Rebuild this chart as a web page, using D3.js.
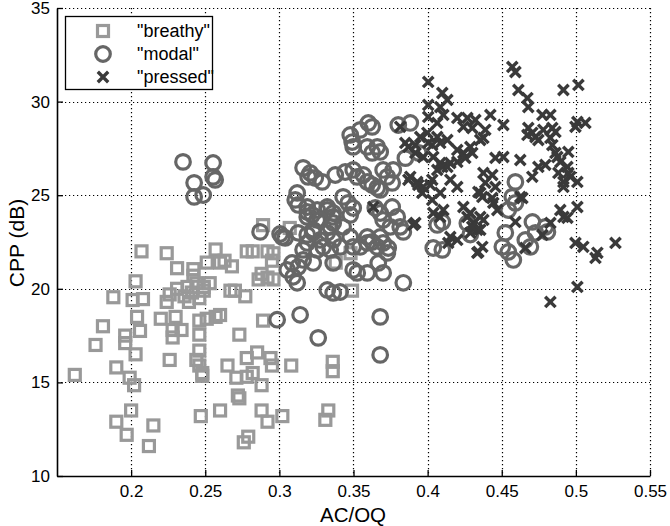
<!DOCTYPE html>
<html>
<head>
<meta charset="utf-8">
<script src="https://cdn.jsdelivr.net/npm/d3@7"></script>
<style>
  body { margin: 0; background: #fff; }
  svg text { font-family: "Liberation Sans", Arial, Helvetica, sans-serif; }
</style>
</head>
<body>
<svg id="chart" width="670" height="526"></svg>
<script>
// ---- data ----
const xTicks = [0.2, 0.25, 0.3, 0.35, 0.4, 0.45, 0.5, 0.55];
const yTicks = [10, 15, 20, 25, 30, 35];
const seriesNames = ['"breathy"', '"modal"', '"pressed"'];

const breathy = [
[0.162,15.4],[0.176,17.0],[0.181,18.0],[0.188,19.55],[0.203,20.4],[0.201,19.4],[0.208,19.45],[0.204,18.5],
[0.206,17.75],[0.196,17.5],[0.196,17.1],[0.203,16.5],[0.190,15.8],[0.199,15.25],[0.202,14.85],[0.200,13.5],
[0.190,12.9],[0.197,12.2],[0.215,12.7],[0.212,11.6],[0.220,18.4],[0.226,19.7],[0.224,19.3],[0.230,18.5],
[0.228,17.8],[0.234,17.8],[0.228,17.4],[0.226,16.2],[0.207,22.0],[0.224,21.9],[0.231,21.1],[0.242,21.05],
[0.257,22.1],[0.260,21.4],[0.251,21.4],[0.231,20.0],[0.238,20.1],[0.242,20.7],[0.241,19.8],[0.249,19.9],
[0.246,19.5],[0.236,19.6],[0.244,20.3],[0.239,19.3],[0.246,18.3],[0.257,18.5],[0.260,18.6],[0.251,18.4],
[0.246,17.55],[0.246,16.7],[0.244,16.2],[0.246,15.9],[0.248,15.5],[0.248,15.35],[0.247,13.2],[0.260,13.5],
[0.265,15.9],[0.273,17.55],[0.271,15.25],[0.272,14.3],[0.273,14.15],[0.278,16.3],[0.285,16.6],[0.282,15.5],
[0.278,15.3],[0.288,14.85],[0.294,16.3],[0.295,15.9],[0.288,13.5],[0.292,12.9],[0.302,13.2],[0.308,15.9],
[0.289,18.3],[0.276,11.8],[0.279,12.1],[0.277,19.6],[0.267,19.9],[0.336,16.1],[0.336,15.6],[0.333,13.5],
[0.331,13.0],[0.289,23.4],[0.307,23.25],[0.278,22.0],[0.292,22.0],[0.296,21.9],[0.282,22.0],[0.295,21.5],
[0.288,20.8],[0.292,20.6],[0.296,20.5],[0.286,20.5],[0.268,21.2],[0.263,21.5],[0.270,19.9],[0.348,21.9],
[0.338,21.4],[0.349,19.9],[0.253,20.3],[0.249,20.1]
];

const modal = [
[0.235,26.78],[0.2553,26.72],[0.2425,25.66],[0.2553,25.98],[0.2567,25.82],[0.2425,24.91],[0.2486,25.01],
[0.287,23.04],[0.3005,22.93],[0.3039,22.72],[0.316,26.46],[0.3208,26.19],[0.3289,25.71],[0.3377,26.08],
[0.312,25.12],[0.3107,24.75],[0.3127,24.48],[0.3188,24.11],[0.3221,23.95],[0.3255,23.68],[0.3323,24.21],
[0.3363,23.84],[0.3343,23.31],[0.3228,23.15],[0.3188,22.88],[0.3275,22.61],[0.3363,22.61],[0.316,22.08],
[0.3255,22.08],[0.3343,22.08],[0.36,28.86],[0.3626,28.65],[0.3545,28.49],[0.3478,28.22],[0.3491,27.84],
[0.3498,27.58],[0.3802,28.75],[0.3883,28.86],[0.3593,27.58],[0.366,27.58],[0.368,27.31],[0.3626,27.26],
[0.3194,25.98],[0.3242,25.92],[0.3444,26.24],[0.3498,26.35],[0.3525,25.98],[0.3566,26.08],[0.3593,25.71],
[0.3626,25.55],[0.37,26.35],[0.3728,25.98],[0.3768,26.35],[0.3761,25.66],[0.366,25.39],[0.368,25.28],
[0.385,26.98],[0.394,27.26],[0.343,24.91],[0.3464,24.59],[0.3498,24.32],[0.3478,23.95],[0.3647,24.32],
[0.368,24.05],[0.3761,24.37],[0.3795,23.84],[0.37,23.68],[0.3748,23.31],[0.3815,23.31],[0.3836,23.04],
[0.3593,22.77],[0.3626,22.5],[0.368,22.77],[0.37,22.45],[0.3734,22.18],[0.4038,22.18],[0.4099,22.08],
[0.4065,23.41],[0.4099,23.57],[0.3188,24.37],[0.3255,24.21],[0.3323,24.37],[0.3363,24.05],[0.3188,23.84],
[0.3275,23.68],[0.3363,23.52],[0.3228,22.99],[0.3323,22.99],[0.343,23.31],[0.3478,22.77],[0.3188,22.45],
[0.3296,22.24],[0.341,22.24],[0.3498,22.24],[0.316,21.54],[0.3228,21.38],[0.3363,21.38],[0.3545,22.24],
[0.3593,22.45],[0.366,22.24],[0.3728,21.92],[0.3667,21.38],[0.37,20.85],[0.3593,20.85],[0.3525,20.85],
[0.3498,21.01],[0.3836,20.32],[0.3323,19.94],[0.3363,19.78],[0.341,19.83],[0.314,18.61],[0.3262,17.38],
[0.368,18.5],[0.368,16.47],[0.2985,18.35],[0.3019,22.77],[0.3127,22.99],[0.3086,21.38],[0.3127,21.17],
[0.3053,21.01],[0.3093,20.64],[0.312,20.32],[0.4592,25.71],[0.4571,24.91],[0.4592,24.59],[0.4544,24.21],
[0.4707,23.57],[0.4794,23.31],[0.4727,22.99],[0.4659,22.61],[0.4524,22.99],[0.4504,22.24],[0.4544,21.97],
[0.4578,21.54],[0.4808,23.04],[0.4693,22.24],[0.4268,23.5],[0.4288,22.9]
];

const pressed = [
[0.4004,31.05],[0.4099,30.46],[0.4133,30.09],[0.4004,29.82],[0.4085,29.71],[0.4004,29.18],[0.4106,29.29],
[0.4065,28.86],[0.42,29.13],[0.4268,29.13],[0.4241,28.65],[0.4301,28.59],[0.3815,28.65],[0.3998,28.33],
[0.4065,28.11],[0.3849,27.79],[0.387,27.58],[0.3917,27.68],[0.4031,27.68],[0.395,28.11],[0.4085,27.79],
[0.4133,27.95],[0.42,27.42],[0.4241,27.26],[0.4288,27.58],[0.4355,27.95],[0.3917,27.26],[0.397,27.04],
[0.4038,27.04],[0.4085,26.72],[0.4133,26.51],[0.42,26.78],[0.4254,26.99],[0.4301,27.26],[0.3883,25.98],
[0.393,25.71],[0.397,25.44],[0.4031,25.82],[0.4065,26.35],[0.4153,25.82],[0.42,25.44],[0.4085,25.12],
[0.4031,24.75],[0.4106,24.21],[0.4038,24.05],[0.4085,23.84],[0.3903,23.41],[0.3633,24.37],[0.3917,23.52],
[0.4241,24.37],[0.4288,24.05],[0.4308,23.52],[0.4335,23.15],[0.4153,22.77],[0.42,22.61],[0.4335,21.92],
[0.4369,22.24],[0.4139,22.45],[0.4322,29.02],[0.4423,29.29],[0.4511,28.75],[0.4389,28.49],[0.4376,28.06],
[0.4457,26.99],[0.4511,27.04],[0.4376,26.19],[0.4436,26.08],[0.4389,25.66],[0.4342,25.17],[0.4369,24.91],
[0.4443,24.59],[0.447,24.21],[0.4355,23.84],[0.4268,23.84],[0.4376,23.68],[0.4355,23.15],[0.4288,22.99],
[0.4457,25.44],[0.4355,25.12],[0.4571,31.85],[0.4592,31.58],[0.4612,30.62],[0.4673,30.19],[0.4679,29.71],
[0.4916,30.62],[0.5017,30.89],[0.4774,29.29],[0.4828,29.29],[0.4679,28.59],[0.4673,28.22],[0.4706,28.33],
[0.4727,28.11],[0.4747,27.95],[0.478,28.49],[0.4841,28.59],[0.4828,28.06],[0.4862,28.38],[0.4841,27.68],
[0.501,28.91],[0.5064,28.86],[0.4997,28.65],[0.4949,27.31],[0.4875,27.04],[0.4895,26.78],[0.4794,26.62],
[0.4706,25.98],[0.4943,26.51],[0.4963,25.98],[0.4916,25.71],[0.501,25.71],[0.4916,25.44],[0.4625,24.91],
[0.4895,24.21],[0.4916,23.84],[0.501,24.37],[0.4592,23.57],[0.4659,22.18],[0.4774,22.88],[0.4828,23.52],
[0.4943,23.79],[0.4997,22.45],[0.505,22.24],[0.5145,21.92],[0.5132,21.65],[0.5267,22.45],[0.501,20.1],
[0.4828,19.3],[0.4639,24.85],[0.4342,21.97],[0.4625,26.88],[0.4747,26.51],[0.4862,27.26],[0.4882,26.19],
[0.4949,26.19],[0.4099,26.51],[0.4153,26.72],[0.387,25.82],[0.3937,25.55],[0.3964,25.12],[0.4018,25.55],
[0.4436,24.85],[0.4301,23.31],[0.4004,27.79]
];

const colors = { breathy: "#999999", modal: "#666666", pressed: "#3a3a3a" };

// ---- layout ----
const svg = d3.select("#chart");
const mLeft = 57, mRight = 650, mTop = 8, mBottom = 476;
const x = d3.scaleLinear().domain([0.15, 0.55]).range([mLeft, mRight]);
const y = d3.scaleLinear().domain([10, 35]).range([mBottom, mTop]);

// grid
const grid = svg.append("g").attr("stroke", "#000").attr("stroke-width", 1.2)
  .attr("stroke-dasharray", "1.2,2.8").attr("fill", "none");
grid.selectAll("line.v").data(xTicks).join("line").attr("class", "v")
  .attr("x1", d => Math.round(x(d)) + 0.5).attr("x2", d => Math.round(x(d)) + 0.5)
  .attr("y1", mTop).attr("y2", mBottom);
grid.selectAll("line.h").data(yTicks.filter(d => d > 10)).join("line").attr("class", "h")
  .attr("y1", d => Math.round(y(d)) + 0.5).attr("y2", d => Math.round(y(d)) + 0.5)
  .attr("x1", mLeft).attr("x2", mRight);

// markers
const sq = 11;
svg.append("g").selectAll("rect").data(breathy).join("rect")
  .attr("x", d => x(d[0]) - sq / 2).attr("y", d => y(d[1]) - sq / 2)
  .attr("width", sq).attr("height", sq)
  .attr("fill", "none").attr("stroke", colors.breathy).attr("stroke-width", 3.2);

svg.append("g").selectAll("circle").data(modal).join("circle")
  .attr("cx", d => x(d[0])).attr("cy", d => y(d[1])).attr("r", 7.3)
  .attr("fill", "none").attr("stroke", colors.modal).attr("stroke-width", 3.2);

const cr = 5.2;
const crossPath = `M${-cr},${-cr}L${cr},${cr}M${-cr},${cr}L${cr},${-cr}`;
svg.append("g").selectAll("path").data(pressed).join("path")
  .attr("transform", d => `translate(${x(d[0])},${y(d[1])})`)
  .attr("d", crossPath)
  .attr("fill", "none").attr("stroke", colors.pressed).attr("stroke-width", 3.4);

// axes
const xAxis = d3.axisBottom(x).tickValues(xTicks).tickSizeInner(-6).tickSizeOuter(0)
  .tickFormat(d => String(d));
const yAxis = d3.axisLeft(y).tickValues(yTicks).tickSizeInner(-6).tickSizeOuter(0)
  .tickFormat(d => String(d));

const gx = svg.append("g").attr("transform", `translate(0,${mBottom})`).call(xAxis);
const gy = svg.append("g").attr("transform", `translate(${mLeft},0)`).call(yAxis);
[gx, gy].forEach(g => {
  g.select(".domain").attr("stroke", "#000").attr("stroke-width", 1.6);
  g.selectAll(".tick line").attr("stroke", "#000").attr("stroke-width", 1.3);
  g.selectAll(".tick text").attr("fill", "#000").attr("font-size", 17)
    .attr("font-family", "Liberation Sans, Arial, sans-serif");
});
gx.selectAll(".tick text").attr("y", 9).attr("dy", "0.71em");
gy.selectAll(".tick text").attr("x", -7);

// axis labels
svg.append("text").attr("x", 353).attr("y", 522).attr("text-anchor", "middle")
  .attr("font-size", 20.5).attr("fill", "#000").text("AC/OQ");
svg.append("text").attr("transform", "translate(24,243) rotate(-90)")
  .attr("text-anchor", "middle").attr("font-size", 21).attr("fill", "#000").text("CPP (dB)");

// legend
const lg = svg.append("g");
lg.append("rect").attr("x", 65.5).attr("y", 16.5).attr("width", 147).attr("height", 73)
  .attr("fill", "#fff").attr("stroke", "#000").attr("stroke-width", 1.3);
const legY = [31, 54, 77];
const lmx = 103;
lg.append("rect").attr("x", lmx - sq / 2).attr("y", legY[0] - sq / 2).attr("width", sq).attr("height", sq)
  .attr("fill", "none").attr("stroke", colors.breathy).attr("stroke-width", 3.2);
lg.append("circle").attr("cx", lmx).attr("cy", legY[1]).attr("r", 7.3)
  .attr("fill", "none").attr("stroke", colors.modal).attr("stroke-width", 3.2);
lg.append("path").attr("transform", `translate(${lmx},${legY[2]})`).attr("d", crossPath)
  .attr("fill", "none").attr("stroke", colors.pressed).attr("stroke-width", 3.4);
lg.selectAll("text").data(seriesNames).join("text")
  .attr("x", 137).attr("y", (d, i) => legY[i]).attr("dy", "0.36em")
  .attr("font-size", 18).attr("fill", "#000").text(d => d);
</script>
</body>
</html>
